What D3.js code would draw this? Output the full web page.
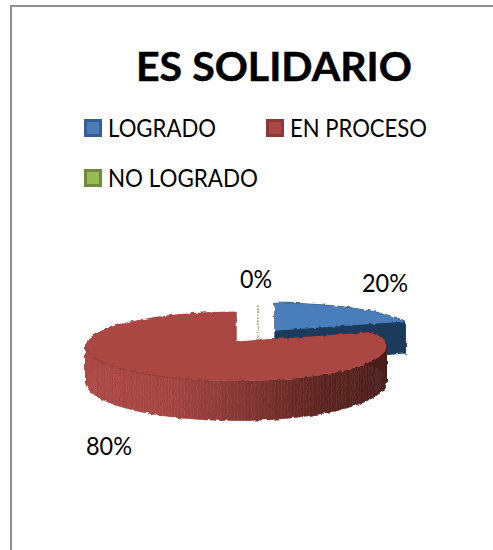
<!DOCTYPE html>
<html><head><meta charset="utf-8">
<script src="https://cdn.jsdelivr.net/npm/d3@7"></script>
<style>html,body{margin:0;padding:0;background:#fff}svg{display:block}text{font-family:Lato,"Open Sans",sans-serif;fill:#000}</style>
</head><body><svg id="c" width="493" height="550"></svg>
<script>
const title = "ES SOLIDARIO";
const categories = ["LOGRADO", "EN PROCESO", "NO LOGRADO"];
const values = [20, 80, 0];
const labels = ["20%", "80%", "0%"];
const topColors = ["#4a7ebb", "#aa4643", "#98b954"];
const legendEdge = ["#376092", "#8c3836", "#71893f"];

const svg = d3.select("#c");
const W = 493, H = 550;
const cx = 236, cy = 342, R = 149, B = 33.9, k = 0.13, D = 34.5;
// per-slice explosion: horizontal pixels, and depth in disc units
const explode = [[39, -0.35], [0, 0], [22, -0.25]];

const defs = svg.append("defs");
const grad = defs.append("linearGradient").attr("id", "wall")
  .attr("gradientUnits", "userSpaceOnUse").attr("x1", 85).attr("x2", 385).attr("y1", 0).attr("y2", 0);
[[0, "#ab4744"], [0.3, "#a34341"], [0.52, "#843733"], [0.8, "#5a2420"], [1, "#4a1c1a"]]
  .forEach(s => grad.append("stop").attr("offset", s[0]).attr("stop-color", s[1]));
const rough = defs.append("filter").attr("id", "rough").attr("x", "-5%").attr("y", "-5%").attr("width", "110%").attr("height", "110%");
rough.append("feTurbulence").attr("type", "fractalNoise").attr("baseFrequency", 0.22).attr("numOctaves", 1).attr("seed", 4).attr("result", "n");
rough.append("feDisplacementMap").attr("in", "SourceGraphic").attr("in2", "n").attr("scale", 4)
  .attr("xChannelSelector", "R").attr("yChannelSelector", "G");

// frame
svg.append("path").attr("d", `M11 ${H}V6H${W}`).attr("fill", "none").attr("stroke", "#8e8e8e").attr("stroke-width", 2);

// title
svg.append("text").text(title).attr("x", 136).attr("y", 81).attr("font-size", 41).attr("font-weight", 700)
  .attr("stroke", "#000").attr("stroke-width", 0.5)
  .attr("textLength", 276).attr("lengthAdjust", "spacingAndGlyphs");

// legend
const legendPos = [[84, 128, 108, 108], [266, 128, 290, 137], [84, 178, 108, 150]];
const lg = svg.append("g").selectAll("g").data(categories).join("g");
lg.append("rect").attr("x", (d, i) => legendPos[i][0] + 1.5).attr("y", (d, i) => legendPos[i][1] - 7.5)
  .attr("width", 15).attr("height", 15).attr("fill", (d, i) => topColors[i])
  .attr("stroke", (d, i) => legendEdge[i]).attr("stroke-width", 3);
lg.append("text").text(d => d).attr("x", (d, i) => legendPos[i][2]).attr("y", (d, i) => legendPos[i][1] + 8.5)
  .attr("font-size", 24.5).attr("textLength", (d, i) => legendPos[i][3]).attr("lengthAdjust", "spacingAndGlyphs");

// pie geometry
const arcs = d3.pie().sort(null).value(d => d)(values);
function project(a, r, off, drop) {
  const v = -r * Math.cos(a), u = r * Math.sin(a), w = v + off[1];
  const s = 1 / (1 - k * w);
  return [cx + off[0] + R * u * s, cy + B * w * s + (drop ? D * s : 0)];
}
function rim(arc) {
  const n = Math.max(1, Math.ceil((arc.endAngle - arc.startAngle) / 0.02));
  return d3.range(n + 1).map(i => arc.startAngle + (arc.endAngle - arc.startAngle) * i / n);
}
const line = d3.line();
const pie = svg.append("g").attr("filter", "url(#rough)");

function drawSlice(i, wallFill, topFill) {
  const arc = arcs[i], off = explode[i], as = rim(arc);
  const outline = [[0, 0], ...as.map(a => [a, 1])];
  const g = pie.append("g");
  outline.forEach((p, j) => {
    const q = outline[(j + 1) % outline.length];
    const pa = project(p[0], p[1], off, false), qa = project(q[0], q[1], off, false);
    const pb = project(p[0], p[1], off, true), qb = project(q[0], q[1], off, true);
    g.append("path").attr("d", line([pa, qa, qb, pb]) + "Z").attr("fill", wallFill).attr("stroke", wallFill).attr("stroke-width", 0.6);
  });
  g.append("path").attr("d", line(outline.map(p => project(p[0], p[1], off, false))) + "Z").attr("fill", topFill);
  return g;
}

// NO LOGRADO: zero-width slice, a dotted radial line
{
  const a = arcs[2].startAngle, off = explode[2];
  pie.append("path").attr("d", line([project(a, 1, off, false), project(a, 0, off, false), project(a, 0, off, true)]))
    .attr("fill", "none").attr("stroke", "#7f9a48").attr("stroke-width", 1.5).attr("stroke-dasharray", "1.5 1.5");
}
drawSlice(0, "#1f3a5c", topColors[0]);
const red = drawSlice(1, "url(#wall)", topColors[1]);
// crease between top and wall on the lit side
const creaseAngles = rim({ startAngle: Math.PI * 1.05, endAngle: Math.PI * 1.47 });
red.append("path").attr("d", line(creaseAngles.map(a => project(a, 1, explode[1], false))))
  .attr("fill", "none").attr("stroke", "#8c3836").attr("stroke-width", 1);

// data labels
const labelPos = [[362, 292], [86, 455], [240, 288]];
svg.append("g").selectAll("text").data(labels).join("text").text(d => d)
  .attr("x", (d, i) => labelPos[i][0]).attr("y", (d, i) => labelPos[i][1])
  .attr("font-size", 24.5).attr("textLength", (d, i) => i === 2 ? 32 : 46).attr("lengthAdjust", "spacingAndGlyphs");
</script></body></html>
